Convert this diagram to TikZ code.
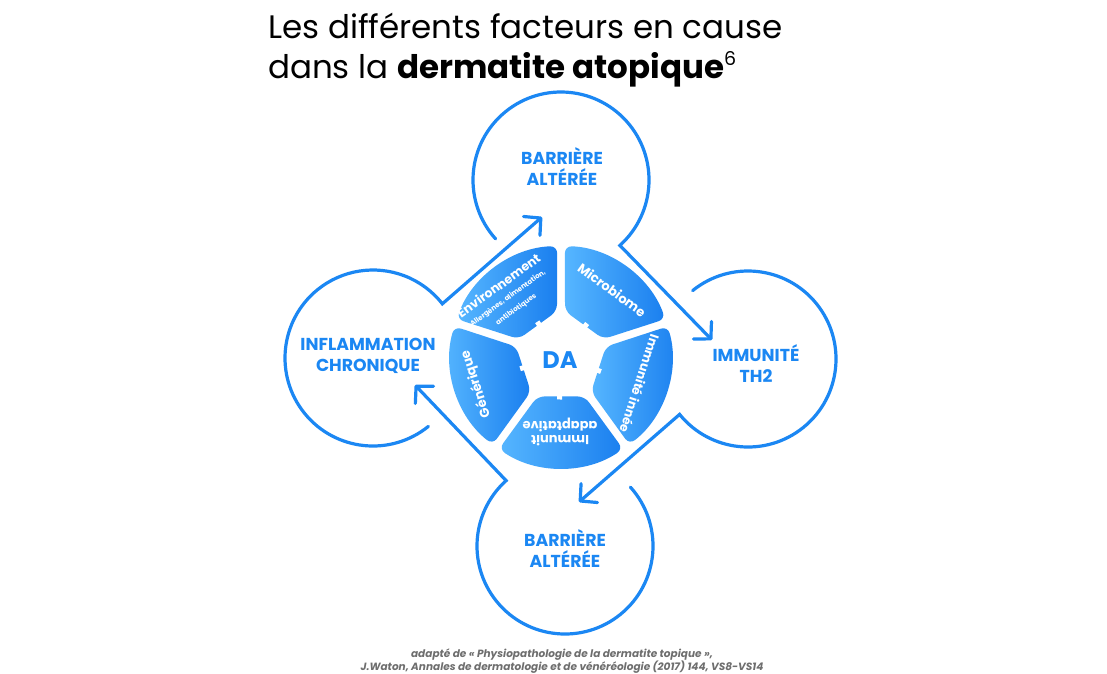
\documentclass[tikz,border=0pt]{standalone}
\usepackage{fontspec}
\setmainfont{Poppins}
\usetikzlibrary{arrows.meta,calc}
\definecolor{cblue}{HTML}{1B87F3}
\definecolor{segl}{HTML}{56B6FF}
\definecolor{segd}{HTML}{1A7FEF}
\definecolor{footgray}{HTML}{6E6E6E}
\tikzset{
 ring/.style={draw=cblue, line width=3.2pt, line cap=round, -{Straight Barb[length=12pt,width=25pt,round]}},
 clabel/.style={text=cblue, font=\bfseries\fontsize{17.3}{21}\selectfont, align=center},
 seg/.style={left color=segl, right color=segd, rounded corners=7pt},
 segtext/.style={text=white, font=\bfseries\fontsize{13}{14}\selectfont, align=center},
}
\begin{document}
\begin{tikzpicture}[x=1pt,y=1pt]
\fill[white] (0,0) rectangle (1107,-673);
\path[use as bounding box] (0,0) rectangle (1107,-673);

% title
\node[anchor=base west, font=\fontsize{32.5}{40}\selectfont, inner sep=0] (t1) at (268,-38) {Les différents facteurs en cause};
\node[anchor=base west, font=\fontsize{32.5}{40}\selectfont, inner sep=0] (t2) at (268,-78) {dans la \textbf{dermatite atopique}\raisebox{13pt}{\fontsize{19}{19}\selectfont 6}};

% circles
\coordinate (T) at (561,-180);
\coordinate (R) at (748,-359);
\coordinate (B) at (565,-546);
\coordinate (L) at (373,-358);
\coordinate (tT) at (542,-217);
\coordinate (tR) at (712,-340);
\coordinate (tB) at (579,-502);
\coordinate (tL) at (415,-385);

\draw[ring] ($(T)+(222:88)$) arc[start angle=222, end angle=-48, radius=88] -- (tR);
\draw[ring] ($(R)+(129:88)$) arc[start angle=129, end angle=-141, radius=88] -- (tB);
\draw[ring] ($(B)+(42:88)$) arc[start angle=42, end angle=-228, radius=88] -- (tL);
\draw[ring] ($(L)+(-51:88)$) arc[start angle=-51, end angle=-322, radius=88] -- (tT);

\node[clabel] (ltop) at (562,-167) {BARRIÈRE\\ALTÉRÉE};
\node[clabel] (lright) at (756,-364) {IMMUNITÉ\\TH2};
\node[clabel] (lbot) at (565,-549) {BARRIÈRE\\ALTÉRÉE};
\node[clabel] (lleft) at (368,-356) {INFLAMMATION\\CHRONIQUE};

% wheel
\coordinate (W) at (561,-357);
\foreach \a in {18,90,162,234,306}
  \shade[seg] ($(W)+(\a+5:46)$) -- ($(W)+(\a+2:111)$) arc[start angle=\a+2, end angle=\a+70, radius=111] -- ($(W)+(\a+67:46)$) -- cycle;
% small teeth of the central white gear
\foreach \c in {52,124,196,268,340}
  \fill[white, rotate around={\c:(W)}] ($(W)+(36,-2.5)$) rectangle ($(W)+(42.5,2.5)$);

\node[segtext, rotate=-36] (micro) at (612,-290) {Microbiome};
\node[segtext, rotate=36, inner sep=0] (env) at (507,-297) {{\fontsize{12.5}{13}\selectfont Environnement}\\[-1pt]{\fontsize{7}{8}\selectfont Allergènes, alimentation,}\\{\fontsize{7}{8}\selectfont antibiotiques}};
\node[segtext, rotate=-108, font=\bfseries\fontsize{12.5}{14}\selectfont] (innee) at (640,-384) {Immunité innée};
\node[segtext, rotate=180] (adapt) at (560,-432) {Immunit\\adaptative};
\node[segtext, rotate=108] (gen) at (476,-384) {Générique};
\node[text=cblue, font=\bfseries\fontsize{24}{24}\selectfont] (da) at (560,-360) {DA};

% footer
\node[font=\bfseries\itshape\fontsize{10.5}{12}\selectfont, text=footgray, align=center] (foot) at (562,-661) {adapté de « Physiopathologie de la dermatite topique »,\\J.Waton, Annales de dermatologie et de vénéréologie (2017) 144, VS8-VS14};
\end{tikzpicture}
\end{document}
